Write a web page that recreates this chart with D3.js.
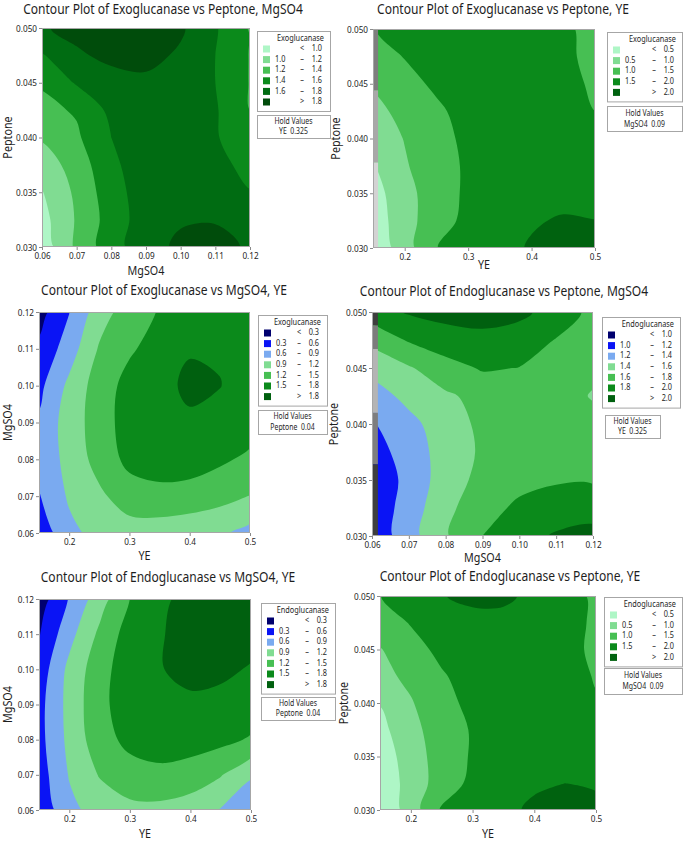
<!DOCTYPE html>
<html lang="en">
<head>
<meta charset="utf-8">
<script src="https://d3js.org/d3.v7.min.js"></script>
<style>
  body { margin: 0; background: #fff; }
  text { font-family: "Noto Sans", "Open Sans", sans-serif; fill: #1e1e1e; }
</style>
<title>Contour plots</title>
</head>
<body>
<script>
// grid positions (x columns left->right, y rows top->bottom)
var mgCols = [0.06, 0.07, 0.08, 0.09, 0.10, 0.11, 0.12];
var mgRows = [0.12, 0.11, 0.10, 0.09, 0.08, 0.07, 0.06];
var yeCols = [0.15, 0.20, 0.25, 0.30, 0.35, 0.40, 0.45, 0.50];
var pepRows = [0.050, 0.0475, 0.045, 0.0425, 0.040, 0.0375, 0.035, 0.0325, 0.030];

// tick labels
var mgTicks = [0.06, 0.07, 0.08, 0.09, 0.10, 0.11, 0.12];
var pepTicks = [0.030, 0.035, 0.040, 0.045, 0.050];
var yeTicks = [0.2, 0.3, 0.4, 0.5];

// contour levels
var exoLevelsA = [1.0, 1.2, 1.4, 1.6, 1.8];
var halfLevels = [0.5, 1.0, 1.5, 2.0];
var lowLevels = [0.3, 0.6, 0.9, 1.2, 1.5, 1.8];
var endoLevelsA = [1.0, 1.2, 1.4, 1.6, 1.8, 2.0];

// colours, lowest band first
var greens6 = ["#aef6c6", "#80dc92", "#47bf53", "#0b8a1b", "#006c12", "#004c0b"];
var greens5 = ["#aef6c6", "#80dc92", "#47bf53", "#0b8a1b", "#00620f"];
var blueGreen7 = ["#00006e", "#0a14f5", "#7aaaf0", "#80dc92", "#47bf53", "#0b8a1b", "#00600f"];

// Exoglucanase vs Peptone, MgSO4 (rows = pepRows, cols = mgCols)
var exoPepMg = [
  [1.78, 1.86, 1.90, 1.92, 1.83, 1.62, 1.38],
  [1.58, 1.77, 1.85, 1.86, 1.77, 1.60, 1.39],
  [1.42, 1.62, 1.72, 1.76, 1.72, 1.60, 1.39],
  [1.35, 1.42, 1.65, 1.72, 1.70, 1.62, 1.40],
  [1.22, 1.37, 1.60, 1.68, 1.70, 1.62, 1.45],
  [1.10, 1.28, 1.57, 1.68, 1.72, 1.68, 1.52],
  [0.99, 1.24, 1.52, 1.70, 1.76, 1.70, 1.61],
  [0.93, 1.22, 1.49, 1.70, 1.78, 1.79, 1.66],
  [0.88, 1.24, 1.52, 1.72, 1.84, 1.85, 1.78]
];
// Exoglucanase vs Peptone, YE (rows = pepRows, cols = yeCols)
var exoPepYe = [
  [1.48, 1.70, 1.85, 1.92, 1.90, 1.80, 1.60, 1.33],
  [1.30, 1.52, 1.72, 1.85, 1.88, 1.80, 1.62, 1.34],
  [1.05, 1.35, 1.58, 1.76, 1.84, 1.80, 1.64, 1.43],
  [0.88, 1.12, 1.42, 1.66, 1.80, 1.82, 1.68, 1.50],
  [0.70, 1.02, 1.35, 1.60, 1.78, 1.84, 1.74, 1.58],
  [0.46, 0.95, 1.30, 1.57, 1.80, 1.88, 1.82, 1.66],
  [0.30, 0.82, 1.28, 1.58, 1.82, 1.92, 1.90, 1.78],
  [0.22, 0.80, 1.30, 1.62, 1.86, 1.97, 2.03, 2.01],
  [0.10, 0.78, 1.49, 1.70, 1.90, 2.03, 2.08, 2.05]
];
// Exoglucanase vs MgSO4, YE (rows = mgRows, cols = yeCols)
var exoMgYe = [
  [0.18, 0.59, 1.06, 1.35, 1.52, 1.63, 1.68, 1.68],
  [0.36, 0.75, 1.23, 1.46, 1.62, 1.785, 1.785, 1.72],
  [0.52, 0.97, 1.35, 1.60, 1.74, 1.84, 1.805, 1.72],
  [0.64, 1.05, 1.34, 1.65, 1.74, 1.77, 1.74, 1.64],
  [0.70, 0.99, 1.32, 1.58, 1.66, 1.64, 1.55, 1.44],
  [0.58, 0.94, 1.14, 1.36, 1.40, 1.38, 1.30, 1.19],
  [0.40, 0.82, 1.00, 1.06, 1.05, 1.00, 0.95, 0.80]
];
// Endoglucanase vs Peptone, MgSO4 (rows = pepRows, cols = mgCols)
var endoPepMg = [
  [1.90, 2.02, 2.06, 2.06, 2.04, 1.93, 1.74],
  [1.66, 1.82, 1.92, 1.96, 1.92, 1.79, 1.68],
  [1.45, 1.58, 1.72, 1.82, 1.795, 1.70, 1.63],
  [1.32, 1.45, 1.57, 1.66, 1.68, 1.66, 1.59],
  [1.18, 1.35, 1.49, 1.65, 1.66, 1.66, 1.64],
  [1.10, 1.30, 1.48, 1.63, 1.68, 1.70, 1.68],
  [1.05, 1.26, 1.50, 1.66, 1.74, 1.78, 1.78],
  [1.06, 1.29, 1.55, 1.72, 1.84, 1.90, 1.92],
  [1.05, 1.32, 1.58, 1.80, 1.92, 2.02, 2.06]
];
// Endoglucanase vs MgSO4, YE (rows = mgRows, cols = yeCols)
var endoMgYe = [
  [0.14, 0.62, 1.06, 1.50, 1.75, 1.88, 1.92, 1.90],
  [0.28, 0.80, 1.26, 1.64, 1.78, 1.90, 1.93, 1.88],
  [0.42, 0.98, 1.38, 1.68, 1.79, 1.86, 1.85, 1.78],
  [0.50, 1.00, 1.42, 1.66, 1.74, 1.76, 1.73, 1.66],
  [0.50, 0.98, 1.38, 1.58, 1.64, 1.64, 1.58, 1.47],
  [0.45, 0.92, 1.22, 1.38, 1.43, 1.36, 1.22, 0.95],
  [0.38, 0.82, 1.02, 1.12, 1.12, 1.06, 0.88, 0.58]
];
// Endoglucanase vs Peptone, YE (rows = pepRows, cols = yeCols)
var endoPepYe = [
  [1.49, 1.72, 1.99, 2.05, 2.04, 1.95, 1.72, 1.40],
  [1.25, 1.53, 1.78, 1.93, 1.94, 1.85, 1.68, 1.42],
  [0.97, 1.32, 1.62, 1.82, 1.88, 1.82, 1.66, 1.40],
  [0.85, 1.12, 1.45, 1.70, 1.82, 1.80, 1.67, 1.47],
  [0.52, 0.96, 1.35, 1.62, 1.80, 1.82, 1.72, 1.53],
  [0.35, 0.85, 1.25, 1.54, 1.78, 1.86, 1.80, 1.62],
  [0.20, 0.76, 1.22, 1.55, 1.80, 1.90, 1.88, 1.78],
  [0.10, 0.72, 1.22, 1.62, 1.85, 1.96, 2.00, 1.97],
  [0.05, 0.74, 1.56, 1.75, 1.93, 2.05, 2.10, 2.07]
];

// grey strips at the left edge of two plots: [from, to, colour] along y
var stripExoYe = [[0.050, 0.0444, "#7e7e7e"], [0.0444, 0.0378, "#a8a8a8"], [0.0378, 0.030, "#d3d3d3"]];
var stripEndoMg = [[0.050, 0.0488, "#3e3e3e"], [0.0488, 0.0467, "#7c7c7c"], [0.0467, 0.041, "#b4b4b4"],
                   [0.041, 0.0364, "#7e7e7e"], [0.0364, 0.030, "#3e3e3e"]];

var panels = [
  {title: "Contour Plot of Exoglucanase vs Peptone, MgSO4", tx: 163, ty: 10,
   box: [42, 250, 28, 247], xs: mgCols, ys: pepRows, z: exoPepMg, levels: exoLevelsA, colors: greens6,
   xTicks: mgTicks, xFmt: ".2f", yTicks: pepTicks, yFmt: ".3f", xLabel: "MgSO4", yLabel: "Peptone",
   xLabelDy: 25, yLabelDx: 33, legendTitle: "Exoglucanase", legend: [257, 31, 73], hold: [257, 115, 73, 23], holdText: "YE  0.325"},
  {title: "Contour Plot of Exoglucanase vs Peptone, YE", tx: 503, ty: 10,
   box: [373, 595, 29, 248], xs: yeCols, ys: pepRows, z: exoPepYe, levels: halfLevels, colors: greens5,
   xTicks: yeTicks, xFmt: ".1f", yTicks: pepTicks, yFmt: ".3f", xLabel: "YE", yLabel: "Peptone",
   xLabelDy: 18, yLabelDx: 36, legendTitle: "Exoglucanase", legend: [607, 32, 75], hold: [607, 106, 75, 25], holdText: "MgSO4  0.09",
   strip: [0.15, 0.158], stripBands: stripExoYe},
  {title: "Contour Plot of Exoglucanase vs MgSO4, YE", tx: 164, ty: 291,
   box: [39, 250, 312, 533], xs: yeCols, ys: mgRows, z: exoMgYe, levels: lowLevels, colors: blueGreen7,
   xTicks: yeTicks, xFmt: ".1f", yTicks: mgTicks, yFmt: ".2f", xLabel: "YE", yLabel: "MgSO4",
   xLabelDy: 24, yLabelDx: 30, legendTitle: "Exoglucanase", legend: [258, 315, 69], hold: [258, 410, 69, 24], holdText: "Peptone  0.04"},
  {title: "Contour Plot of Endoglucanase vs Peptone, MgSO4", tx: 504, ty: 292,
   box: [372, 593, 312, 536], xs: mgCols, ys: pepRows, z: endoPepMg, levels: endoLevelsA, colors: blueGreen7,
   xTicks: mgTicks, xFmt: ".2f", yTicks: pepTicks, yFmt: ".3f", xLabel: "MgSO4", yLabel: "Peptone",
   xLabelDy: 23, yLabelDx: 37, legendTitle: "Endoglucanase", legend: [602, 317, 78], hold: [605, 415, 55, 23], holdText: "YE  0.325",
   strip: [0.06, 0.0616], stripBands: stripEndoMg},
  {title: "Contour Plot of Endoglucanase vs MgSO4, YE", tx: 168, ty: 578,
   box: [39, 251, 599, 810], xs: yeCols, ys: mgRows, z: endoMgYe, levels: lowLevels, colors: blueGreen7,
   xTicks: yeTicks, xFmt: ".1f", yTicks: mgTicks, yFmt: ".2f", xLabel: "YE", yLabel: "MgSO4",
   xLabelDy: 25, yLabelDx: 30, legendTitle: "Endoglucanase", legend: [261, 603, 74], hold: [261, 697, 74, 23], holdText: "Peptone  0.04"},
  {title: "Contour Plot of Endoglucanase vs Peptone, YE", tx: 510, ty: 577,
   box: [380, 596, 596, 810], xs: yeCols, ys: pepRows, z: endoPepYe, levels: halfLevels, colors: greens5,
   xTicks: yeTicks, xFmt: ".1f", yTicks: pepTicks, yFmt: ".3f", xLabel: "YE", yLabel: "Peptone",
   xLabelDy: 25, yLabelDx: 35, legendTitle: "Endoglucanase", legend: [604, 597, 78], hold: [604, 668, 78, 26], holdText: "MgSO4  0.09"}
];

var W = 685, H = 841;
var squeeze = 0.86; // the source picture is a little narrower than the fonts here

var svg = d3.select("body").append("svg")
  .attr("width", W)
  .attr("height", H);

function squash(sel) {
  sel.each(function() {
    var len = this.getComputedTextLength();
    if (len > 0) {
      d3.select(this).attr("textLength", len * squeeze).attr("lengthAdjust", "spacingAndGlyphs");
    }
  });
}

var line = d3.line().curve(d3.curveCatmullRomClosed.alpha(0.5));

panels.forEach(function(p, k) {
  var g = svg.append("g");
  var left = p.box[0], right = p.box[1], top = p.box[2], bottom = p.box[3];
  var nx = p.xs.length, ny = p.ys.length;

  var x = d3.scaleLinear().domain([p.xs[0], p.xs[nx - 1]]).range([left, right]);
  var y = d3.scaleLinear().domain(d3.extent(p.ys)).range([bottom, top]);

  // contour grid coordinates -> pixels (sample i sits at i + 0.5)
  var gx = d3.scaleLinear().domain([0.5, nx - 0.5]).range([x(p.xs[0]), x(p.xs[nx - 1])]);
  var gy = d3.scaleLinear().domain([0.5, ny - 0.5]).range([y(p.ys[0]), y(p.ys[ny - 1])]);

  var values = [];
  p.z.forEach(function(row) { row.forEach(function(v) { values.push(v); }); });
  var contours = d3.contours().size([nx, ny]).thresholds(p.levels)(values);

  var clipId = "clip" + k;
  g.append("clipPath").attr("id", clipId)
    .append("rect")
    .attr("x", left).attr("y", top)
    .attr("width", right - left).attr("height", bottom - top);

  var plot = g.append("g").attr("clip-path", "url(#" + clipId + ")");
  plot.append("rect")
    .attr("x", left).attr("y", top)
    .attr("width", right - left).attr("height", bottom - top)
    .attr("fill", p.colors[0]);

  plot.selectAll("path.band")
    .data(contours)
    .enter()
    .append("path")
    .attr("class", "band")
    .attr("fill-rule", "evenodd")
    .attr("fill", function(d, i) { return p.colors[i + 1]; })
    .attr("d", function(d) {
      return d.coordinates.map(function(poly) {
        return poly.map(function(ring) {
          var pts = ring.slice(0, -1).map(function(pt) { return [gx(pt[0]), gy(pt[1])]; });
          return pts.length > 2 ? line(pts) : "";
        }).join("");
      }).join("");
    });

  if (p.strip) {
    plot.selectAll("rect.strip")
      .data(p.stripBands)
      .enter()
      .append("rect")
      .attr("class", "strip")
      .attr("x", x(p.strip[0]))
      .attr("width", x(p.strip[1]) - x(p.strip[0]))
      .attr("y", function(d) { return y(d[0]); })
      .attr("height", function(d) { return y(d[1]) - y(d[0]); })
      .attr("fill", function(d) { return d[2]; });
  }

  g.append("rect")
    .attr("x", left + 0.5).attr("y", top + 0.5)
    .attr("width", right - left - 1).attr("height", bottom - top - 1)
    .attr("fill", "none").attr("stroke", "#a6a6a6");

  // axes
  var xAxis = g.append("g")
    .attr("transform", "translate(0," + bottom + ")")
    .call(d3.axisBottom(x).tickValues(p.xTicks).tickFormat(d3.format(p.xFmt)).tickSize(3).tickPadding(2));
  var yAxis = g.append("g")
    .attr("transform", "translate(" + left + ",0)")
    .call(d3.axisLeft(y).tickValues(p.yTicks).tickFormat(d3.format(p.yFmt)).tickSize(3).tickPadding(2));
  [xAxis, yAxis].forEach(function(a) {
    a.select(".domain").remove();
    a.selectAll("line").attr("stroke", "#8a8a8a");
    a.selectAll("text").attr("font-size", 9.5).attr("fill", "#1e1e1e")
      .style("font-family", "'Noto Sans', sans-serif").call(squash);
  });

  g.append("text")
    .attr("x", (left + right) / 2).attr("y", bottom + p.xLabelDy)
    .attr("text-anchor", "middle").attr("dominant-baseline", "middle")
    .attr("font-size", 12.5)
    .text(p.xLabel).call(squash);
  g.append("text")
    .attr("transform", "translate(" + (left - p.yLabelDx) + "," + ((top + bottom) / 2) + ") rotate(-90)")
    .attr("text-anchor", "middle").attr("dominant-baseline", "middle")
    .attr("font-size", 12.5)
    .text(p.yLabel).call(squash);

  g.append("text")
    .attr("x", p.tx).attr("y", p.ty)
    .attr("text-anchor", "middle").attr("dominant-baseline", "middle")
    .attr("font-size", 14)
    .text(p.title).call(squash);

  // legend
  var lx = p.legend[0], ly = p.legend[1], lw = p.legend[2];
  var n = p.levels.length;
  var rowStep = 10.6;
  var lh = 18 + n * rowStep + 9;
  g.append("rect")
    .attr("x", lx + 0.5).attr("y", ly + 0.5)
    .attr("width", lw).attr("height", lh)
    .attr("fill", "#fff").attr("stroke", "#a6a6a6");
  g.append("text")
    .attr("x", lx + lw - 6).attr("y", ly + 8)
    .attr("text-anchor", "end").attr("dominant-baseline", "middle")
    .attr("font-size", 8.5)
    .text(p.legendTitle).call(squash);

  var fmt = d3.format(".1f");
  var rows = d3.range(n + 1).map(function(i) {
    if (i === 0) return {lo: "", sym: "<", hi: fmt(p.levels[0]), color: p.colors[0]};
    if (i === n) return {lo: "", sym: ">", hi: fmt(p.levels[n - 1]), color: p.colors[n]};
    return {lo: fmt(p.levels[i - 1]), sym: "\u2013", hi: fmt(p.levels[i]), color: p.colors[i]};
  });
  var entry = g.selectAll("g.entry")
    .data(rows)
    .enter()
    .append("g")
    .attr("class", "entry")
    .attr("transform", function(d, i) { return "translate(0," + (ly + 18 + i * rowStep) + ")"; });
  entry.append("rect")
    .attr("x", lx + 6).attr("y", -3.5)
    .attr("width", 7).attr("height", 7)
    .attr("fill", function(d) { return d.color; });
  entry.append("text")
    .attr("x", lx + 18).attr("dominant-baseline", "middle")
    .attr("font-size", 8.5)
    .text(function(d) { return d.lo; });
  entry.append("text")
    .attr("x", lx + lw - 28).attr("text-anchor", "middle").attr("dominant-baseline", "middle")
    .attr("font-size", 8.5)
    .text(function(d) { return d.sym; });
  entry.append("text")
    .attr("x", lx + lw - 8).attr("text-anchor", "end").attr("dominant-baseline", "middle")
    .attr("font-size", 8.5)
    .text(function(d) { return d.hi; });
  entry.selectAll("text").call(squash);

  // hold values box
  var hx = p.hold[0], hy = p.hold[1], hw = p.hold[2], hh = p.hold[3];
  g.append("rect")
    .attr("x", hx + 0.5).attr("y", hy + 0.5)
    .attr("width", hw).attr("height", hh)
    .attr("fill", "#fff").attr("stroke", "#a6a6a6");
  g.append("text")
    .attr("x", hx + hw / 2).attr("y", hy + hh * 0.3)
    .attr("text-anchor", "middle").attr("dominant-baseline", "middle")
    .attr("font-size", 8)
    .text("Hold Values").call(squash);
  g.append("text")
    .attr("x", hx + hw / 2).attr("y", hy + hh * 0.74)
    .attr("text-anchor", "middle").attr("dominant-baseline", "middle")
    .attr("font-size", 8)
    .style("white-space", "pre")
    .text(p.holdText).call(squash);
});
</script>
</body>
</html>
